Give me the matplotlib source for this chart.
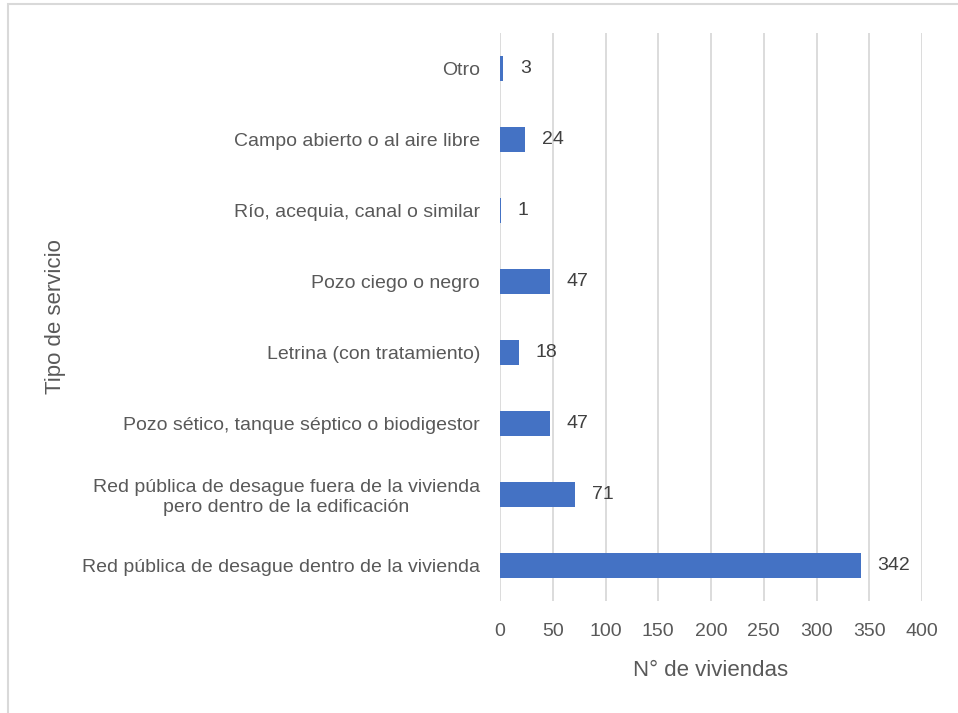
import matplotlib
matplotlib.use("Agg")
import matplotlib.pyplot as plt
from matplotlib.patches import Rectangle
from matplotlib.transforms import ScaledTranslation

categories = [
    "Red pública de desague dentro de la vivienda",
    "Red pública de desague fuera de la vivienda\npero dentro de la edificación",
    "Pozo sético, tanque séptico o biodigestor",
    "Letrina (con tratamiento)",
    "Pozo ciego o negro",
    "Río, acequia, canal o similar",
    "Campo abierto o al aire libre",
    "Otro",
]
values = [342, 71, 47, 18, 47, 1, 24, 3]
xticks = [0, 50, 100, 150, 200, 250, 300, 350, 400]

plt.rcParams['font.family'] = ['Liberation Sans Narrow', 'Liberation Sans', 'DejaVu Sans']

W, H = 958, 713
fig = plt.figure(figsize=(W/100, H/100), dpi=100)
ax = fig.add_axes([500/W, 1 - 601/H, 422/W, (601-33)/H])

ypos = list(range(len(categories)))
ax.barh(ypos, values, height=0.35, color='#4472C4', zorder=3)
for y, v in zip(ypos, values):
    ax.annotate(str(v), (v, y), xytext=(12, 0), textcoords='offset points',
                va='center', ha='left', fontsize=14, color='#404040')

ax.set_xlim(0, 400)
ax.set_ylim(-0.5, len(categories) - 0.5)
ax.set_xticks(xticks)
ax.set_xticklabels([str(t) for t in xticks])
ax.set_yticks(ypos)
ax.set_yticklabels(categories, fontsize=14, color='#595959')
ax.tick_params(axis='y', length=0, pad=0)
ax.tick_params(axis='x', length=0, pad=16, labelsize=14, labelcolor='#595959')
for lbl in ax.get_yticklabels():
    lbl.set_multialignment('center')
    lbl.set_ha('right')
    lbl.set_transform(lbl.get_transform() + ScaledTranslation(-20/100, 0, fig.dpi_scale_trans))
ax.grid(axis='x', color='#D9D9D9', linewidth=1.3, zorder=0)
for s in ax.spines.values():
    s.set_visible(False)

ax.set_xlabel("N° de viviendas", fontsize=16, color='#595959', labelpad=14)
fig.text(55/W, 1 - 317/H, "Tipo de servicio", rotation=90, ha='center', va='center',
         fontsize=16, color='#595959')

fig.patches.append(Rectangle((7.5/W, -0.1), 1.2, 1 - 4.5/H + 0.1, transform=fig.transFigure,
                             fill=False, edgecolor='#D9D9D9', linewidth=1.5))

fig.savefig("out.png", dpi=100, facecolor='white')
